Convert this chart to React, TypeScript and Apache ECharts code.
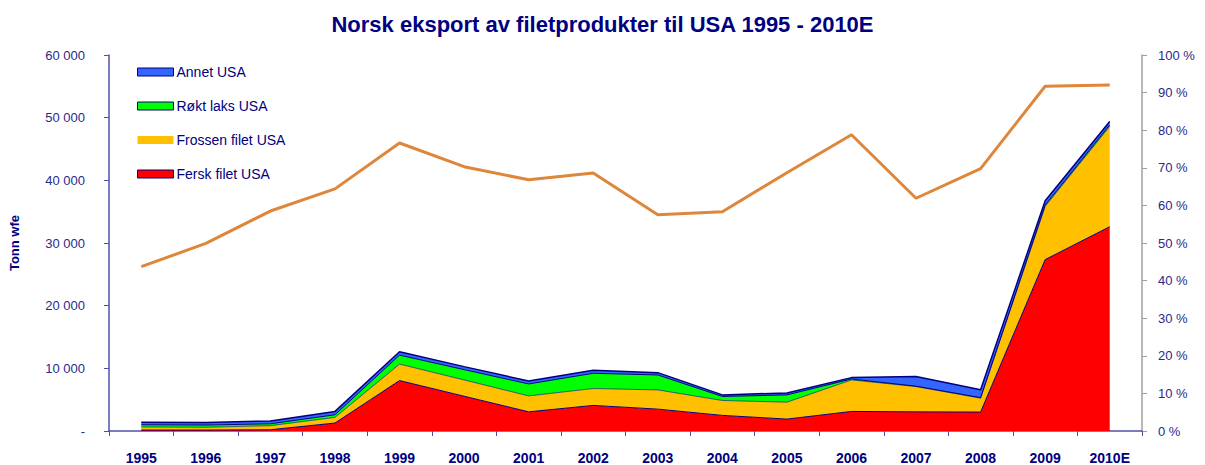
import React, { useEffect, useRef } from "react";
import * as echarts from "echarts";

const categories = ["1995","1996","1997","1998","1999","2000","2001","2002","2003","2004","2005","2006","2007","2008","2009","2010E"];
const ferskFilet = [150, 150, 200, 1270, 8050, 5550, 3060, 4080, 3490, 2490, 1900, 3120, 3060, 3020, 27350, 32600];
const frossenFilet = [500, 450, 650, 900, 2630, 2600, 2540, 2700, 3070, 2380, 2700, 5030, 4030, 2220, 8500, 16000];
const roktLaks = [350, 350, 300, 420, 1430, 1640, 1910, 2430, 2380, 640, 1160, 150, 60, 80, 200, 250];
const annetUsa = [400, 400, 450, 540, 540, 480, 470, 470, 370, 250, 320, 220, 1530, 1260, 700, 550];
const andelPct = [43.7, 49.9, 58.5, 64.4, 76.6, 70.3, 66.8, 68.6, 57.5, 58.3, 68.7, 78.8, 61.9, 69.8, 91.7, 92.0];

const NAVY = "#000080";
const LABEL = "#2a2a8a";
const FONT = "Liberation Sans, Arial, sans-serif";

export default function App() {
  const ref = useRef<HTMLDivElement>(null);
  useEffect(() => {
    if (!ref.current) return;
    const chart = echarts.init(ref.current, undefined, { renderer: "svg" });
    const area = (name: string, data: number[], color: string, lineW: number) => ({
      name,
      type: "line",
      stack: "total",
      data,
      symbol: "none",
      itemStyle: { color },
      lineStyle: { color: NAVY, width: lineW },
      areaStyle: { color, opacity: 1 },
      z: 2,
    });
    chart.setOption({
      animation: false,
      textStyle: { fontFamily: FONT },
      title: {
        text: "Norsk eksport av filetprodukter til USA 1995 - 2010E",
        left: "center",
        top: 8,
        textStyle: { color: NAVY, fontSize: 22, fontWeight: "bold", fontFamily: FONT },
      },
      legend: {
        orient: "vertical",
        left: 137,
        top: 64,
        padding: 0,
        itemWidth: 36,
        itemHeight: 8,
        itemGap: 18,
        textStyle: { color: NAVY, fontSize: 14, lineHeight: 16, fontFamily: FONT, padding: [0, 0, 0, -2] },
        data: [
          { name: "Annet USA", icon: "rect", itemStyle: { color: "#3366ff", borderColor: NAVY, borderWidth: 1 } },
          { name: "Røkt laks USA", icon: "rect", itemStyle: { color: "#00ff00", borderColor: NAVY, borderWidth: 1 } },
          { name: "Frossen filet USA", icon: "rect", itemStyle: { color: "#ffc000", borderWidth: 0 } },
          { name: "Fersk filet USA", icon: "rect", itemStyle: { color: "#ff0000", borderColor: NAVY, borderWidth: 1 } },
        ],
      },
      grid: { left: 105, right: 63, top: 55, bottom: 32 },
      xAxis: {
        type: "category",
        data: categories,
        boundaryGap: true,
        axisLine: { lineStyle: { color: "#5050a8", width: 1.5 } },
        axisTick: { show: true, length: 5, lineStyle: { color: "#5050a8" } },
        axisLabel: { color: NAVY, fontWeight: "bold", fontSize: 14, margin: 20, fontFamily: FONT },
      },
      yAxis: [
        {
          type: "value",
          min: 0,
          max: 60000,
          interval: 10000,
          name: "Tonn wfe",
          nameLocation: "middle",
          nameRotate: 90,
          nameGap: 88,
          nameTextStyle: { color: NAVY, fontWeight: "bold", fontSize: 13, fontFamily: FONT },
          axisLine: { show: true, lineStyle: { color: "#5050a8", width: 1.5 } },
          axisTick: { show: true, length: 5, lineStyle: { color: "#5050a8" } },
          splitLine: { show: false },
          axisLabel: {
            color: LABEL,
            fontSize: 13,
            margin: 24,
            fontFamily: FONT,
            formatter: (v: number) => (v === 0 ? "-" : String(v).replace(/\B(?=(\d{3})+(?!\d))/g, " ")),
          },
        },
        {
          type: "value",
          min: 0,
          max: 100,
          interval: 10,
          position: "right",
          axisLine: { show: true, lineStyle: { color: "#a0a0a0", width: 1.5 } },
          axisTick: { show: true, length: 5, lineStyle: { color: "#a0a0a0" } },
          splitLine: { show: false },
          axisLabel: { color: LABEL, fontSize: 13, margin: 16, fontFamily: FONT, formatter: (v: number) => `${v} %` },
        },
      ],
      series: [
        area("Fersk filet USA", ferskFilet, "#ff0000", 1),
        area("Frossen filet USA", frossenFilet, "#ffc000", 0.6),
        area("Røkt laks USA", roktLaks, "#00ff00", 1),
        area("Annet USA", annetUsa, "#3366ff", 1.5),
        {
          name: "Andel",
          type: "line",
          yAxisIndex: 1,
          data: andelPct,
          symbol: "none",
          lineStyle: { color: "#de873a", width: 3 },
          itemStyle: { color: "#de873a" },
          z: 3,
        },
      ],
    });
    return () => chart.dispose();
  }, []);
  return <div ref={ref} style={{ position: "absolute", left: 0, top: 0, width: 1205, height: 465 }} />;
}
